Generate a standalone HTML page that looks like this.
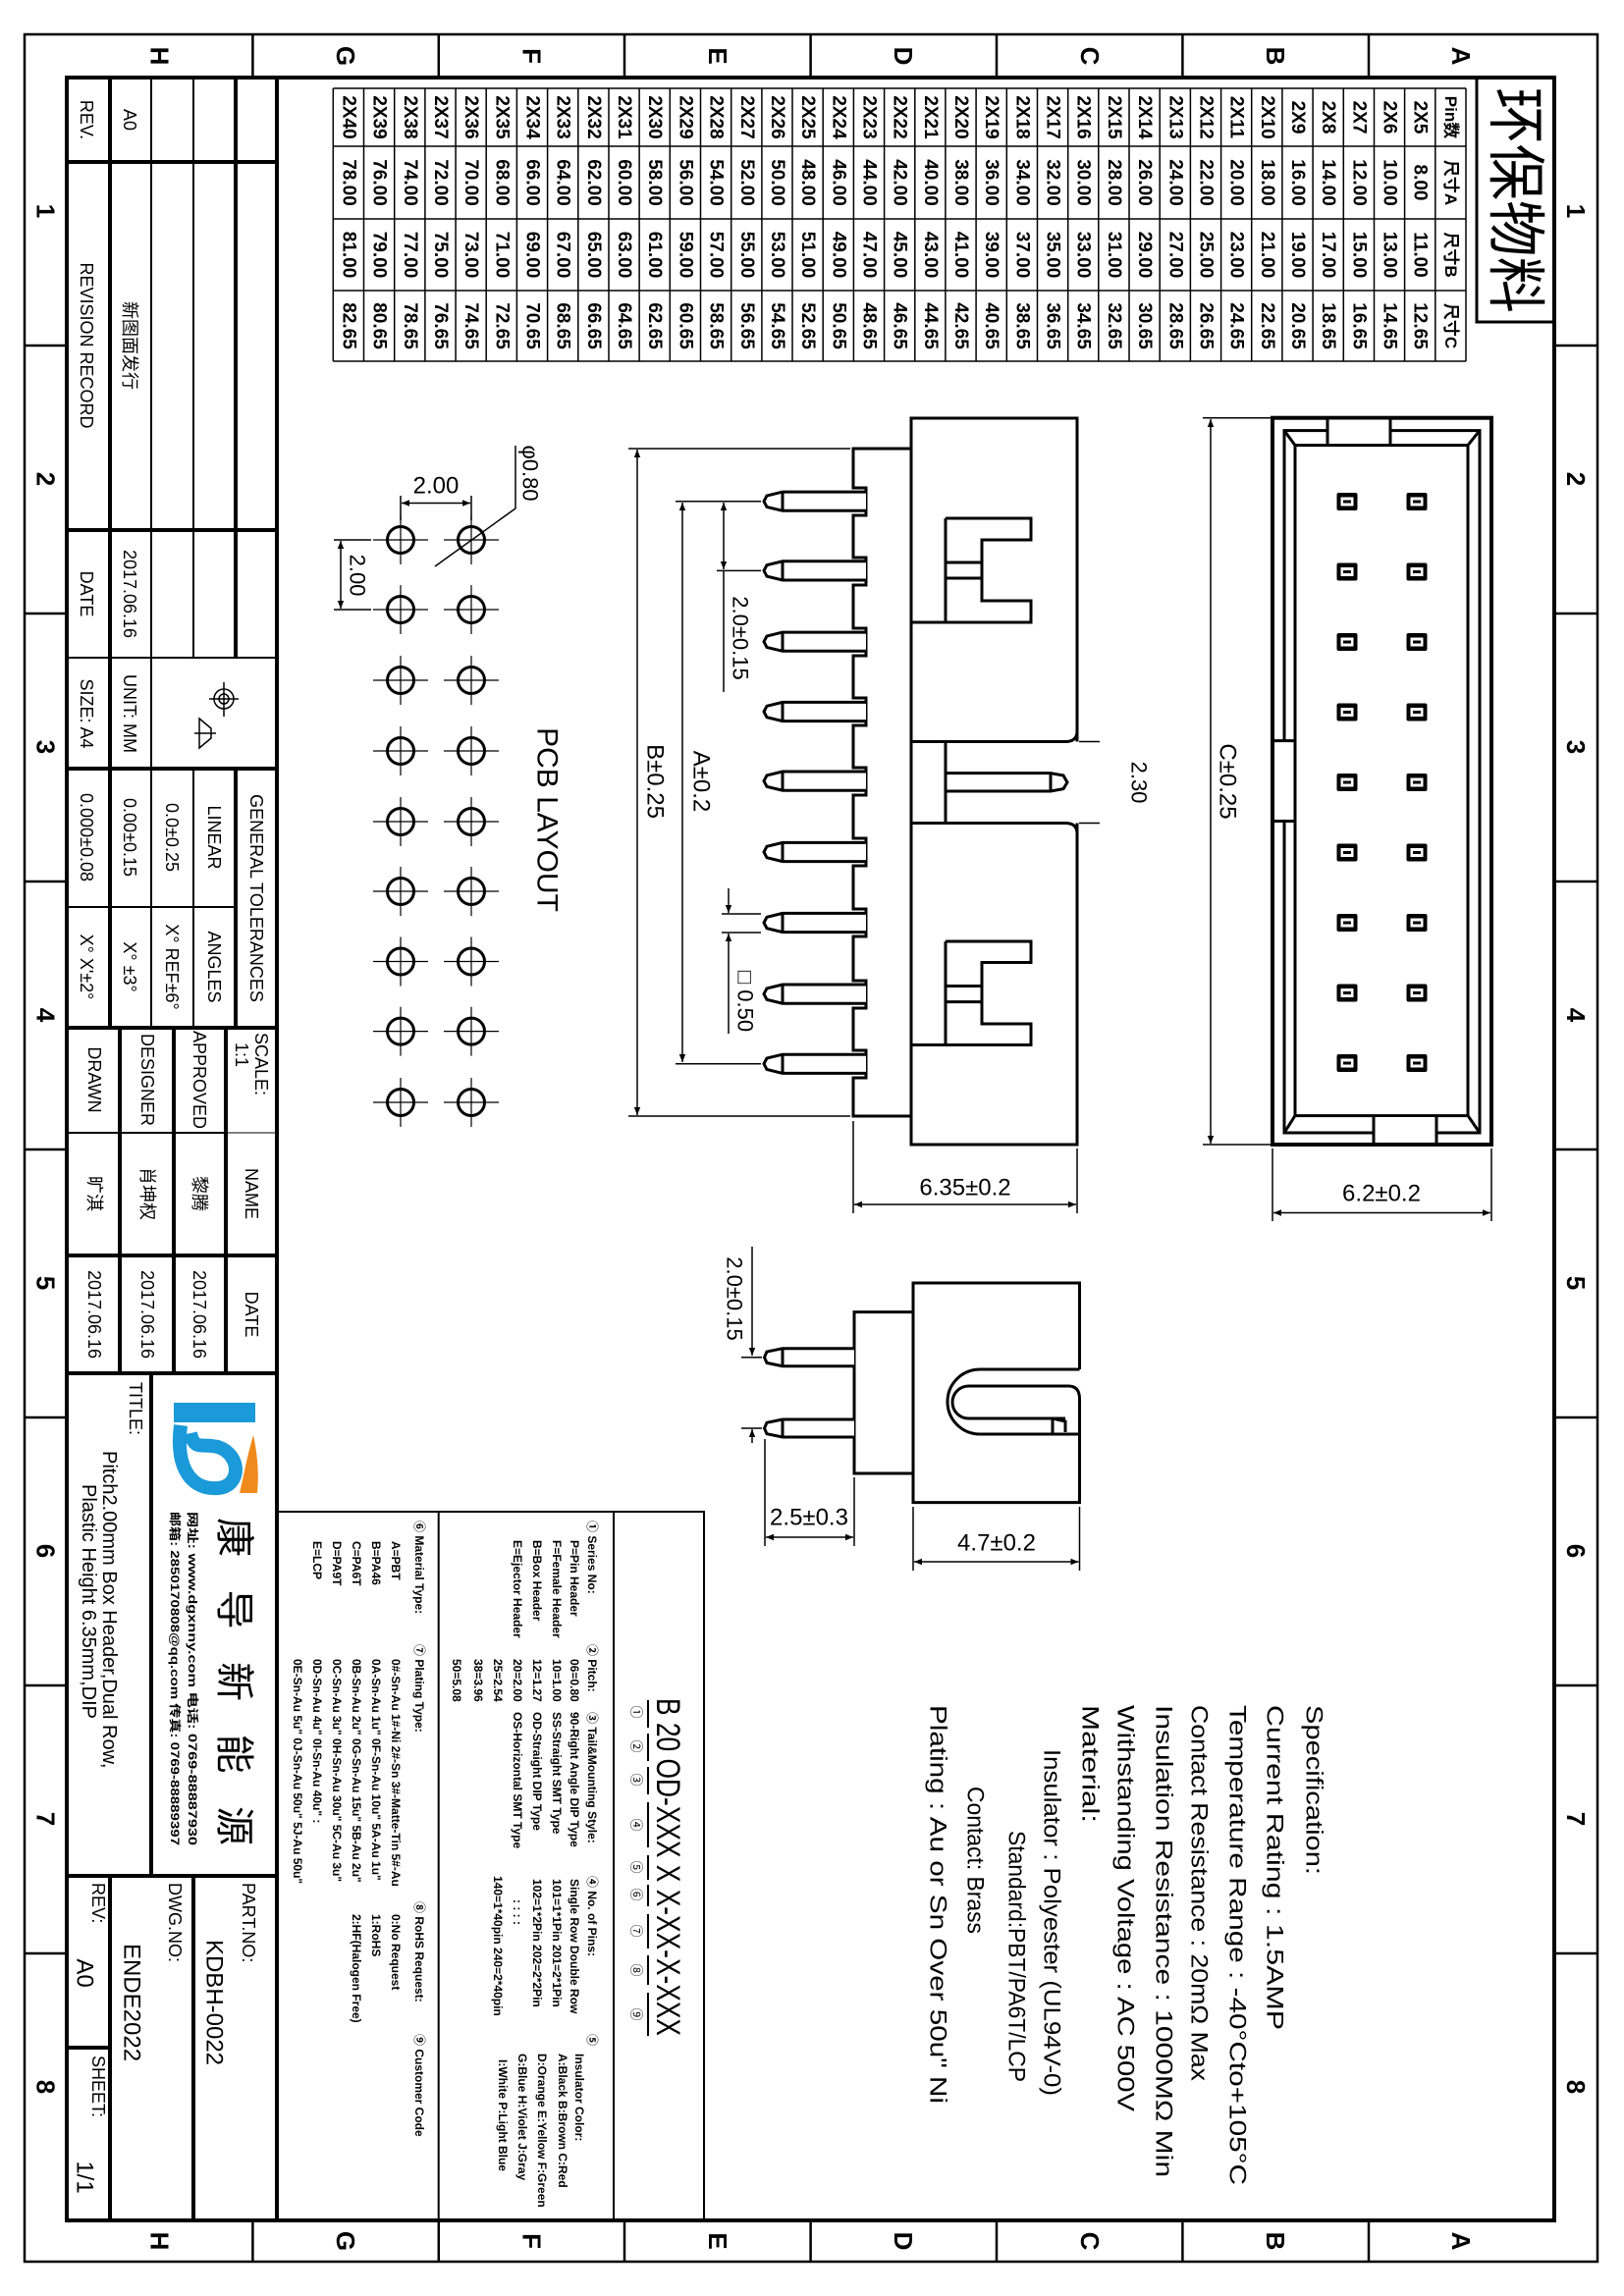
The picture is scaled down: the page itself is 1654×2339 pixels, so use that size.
<!DOCTYPE html>
<html><head><meta charset="utf-8"><style>
html,body{margin:0;padding:0;background:#fff}
svg{display:block}
text{font-family:"Liberation Sans Narrow","Liberation Sans","Noto Sans CJK SC",sans-serif;fill:#000}
.c{dominant-baseline:central;text-anchor:middle}
.s{dominant-baseline:central;text-anchor:start}
</style></head><body>
<svg xmlns="http://www.w3.org/2000/svg" width="1654" height="2339" viewBox="0 0 1654 2339">
<defs>
<marker id="ar" viewBox="0 0 10 10" refX="10" refY="5" markerWidth="12" markerHeight="8" markerUnits="userSpaceOnUse" orient="auto-start-reverse"><path d="M0,1 L10,5 L0,9 z" fill="#000"/></marker>
</defs>
<rect width="1654" height="2339" fill="#fff"/>
<!-- frame -->
<rect x="25" y="35" width="1602" height="2269" fill="none" stroke="#000" stroke-width="2.5"/>
<rect x="68" y="79" width="1515" height="2183" fill="none" stroke="#000" stroke-width="4"/>
<g stroke="#000" stroke-width="2.5">
<line x1="257.4" y1="35" x2="257.4" y2="79"/><line x1="446.8" y1="35" x2="446.8" y2="79"/><line x1="636" y1="35" x2="636" y2="79"/><line x1="825.6" y1="35" x2="825.6" y2="79"/><line x1="1015" y1="35" x2="1015" y2="79"/><line x1="1204.4" y1="35" x2="1204.4" y2="79"/><line x1="1394" y1="35" x2="1394" y2="79"/>
<line x1="257.4" y1="2262" x2="257.4" y2="2304"/><line x1="446.8" y1="2262" x2="446.8" y2="2304"/><line x1="636" y1="2262" x2="636" y2="2304"/><line x1="825.6" y1="2262" x2="825.6" y2="2304"/><line x1="1015" y1="2262" x2="1015" y2="2304"/><line x1="1204.4" y1="2262" x2="1204.4" y2="2304"/><line x1="1394" y1="2262" x2="1394" y2="2304"/>
<line x1="25" y1="352" x2="68" y2="352"/><line x1="25" y1="625" x2="68" y2="625"/><line x1="25" y1="898" x2="68" y2="898"/><line x1="25" y1="1171" x2="68" y2="1171"/><line x1="25" y1="1444" x2="68" y2="1444"/><line x1="25" y1="1717" x2="68" y2="1717"/><line x1="25" y1="1990" x2="68" y2="1990"/>
<line x1="1583" y1="352" x2="1627" y2="352"/><line x1="1583" y1="625" x2="1627" y2="625"/><line x1="1583" y1="898" x2="1627" y2="898"/><line x1="1583" y1="1171" x2="1627" y2="1171"/><line x1="1583" y1="1444" x2="1627" y2="1444"/><line x1="1583" y1="1717" x2="1627" y2="1717"/><line x1="1583" y1="1990" x2="1627" y2="1990"/>
</g>
<g font-size="26" font-weight="bold">
<text class="c" transform="translate(162.7 57) rotate(90)">H</text><text class="c" transform="translate(352 57) rotate(90)">G</text><text class="c" transform="translate(541.5 57) rotate(90)">F</text><text class="c" transform="translate(731 57) rotate(90)">E</text><text class="c" transform="translate(920 57) rotate(90)">D</text><text class="c" transform="translate(1110 57) rotate(90)">C</text><text class="c" transform="translate(1299 57) rotate(90)">B</text><text class="c" transform="translate(1488 57) rotate(90)">A</text>
<text class="c" transform="translate(162.7 2283) rotate(90)">H</text><text class="c" transform="translate(352 2283) rotate(90)">G</text><text class="c" transform="translate(541.5 2283) rotate(90)">F</text><text class="c" transform="translate(731 2283) rotate(90)">E</text><text class="c" transform="translate(920 2283) rotate(90)">D</text><text class="c" transform="translate(1110 2283) rotate(90)">C</text><text class="c" transform="translate(1299 2283) rotate(90)">B</text><text class="c" transform="translate(1488 2283) rotate(90)">A</text>
<text class="c" transform="translate(46.5 215) rotate(90)">1</text><text class="c" transform="translate(46.5 488) rotate(90)">2</text><text class="c" transform="translate(46.5 761) rotate(90)">3</text><text class="c" transform="translate(46.5 1034) rotate(90)">4</text><text class="c" transform="translate(46.5 1307) rotate(90)">5</text><text class="c" transform="translate(46.5 1580) rotate(90)">6</text><text class="c" transform="translate(46.5 1853) rotate(90)">7</text><text class="c" transform="translate(46.5 2126) rotate(90)">8</text>
<text class="c" transform="translate(1605 215) rotate(90)">1</text><text class="c" transform="translate(1605 488) rotate(90)">2</text><text class="c" transform="translate(1605 761) rotate(90)">3</text><text class="c" transform="translate(1605 1034) rotate(90)">4</text><text class="c" transform="translate(1605 1307) rotate(90)">5</text><text class="c" transform="translate(1605 1580) rotate(90)">6</text><text class="c" transform="translate(1605 1853) rotate(90)">7</text><text class="c" transform="translate(1605 2126) rotate(90)">8</text>
</g>

<!-- 环保物料 -->
<rect x="1504" y="79" width="79" height="249" fill="none" stroke="#000" stroke-width="3"/>
<text class="c" transform="translate(1543 204) rotate(90)" font-size="60" font-family="Noto Serif CJK SC,serif" textLength="230" lengthAdjust="spacingAndGlyphs">环保物料</text>

<!-- table -->
<g stroke="#000" stroke-width="1.5">
<line x1="339.3" y1="90" x2="1493" y2="90"/><line x1="339.3" y1="149" x2="1493" y2="149"/><line x1="339.3" y1="223" x2="1493" y2="223"/><line x1="339.3" y1="296" x2="1493" y2="296"/><line x1="339.3" y1="368" x2="1493" y2="368"/>
<line x1="1493" y1="90" x2="1493" y2="368"/><line x1="1461.8" y1="90" x2="1461.8" y2="368"/><line x1="1430.6" y1="90" x2="1430.6" y2="368"/><line x1="1399.5" y1="90" x2="1399.5" y2="368"/><line x1="1368.3" y1="90" x2="1368.3" y2="368"/><line x1="1337.1" y1="90" x2="1337.1" y2="368"/><line x1="1305.9" y1="90" x2="1305.9" y2="368"/><line x1="1274.7" y1="90" x2="1274.7" y2="368"/><line x1="1243.6" y1="90" x2="1243.6" y2="368"/><line x1="1212.4" y1="90" x2="1212.4" y2="368"/><line x1="1181.2" y1="90" x2="1181.2" y2="368"/><line x1="1150" y1="90" x2="1150" y2="368"/><line x1="1118.8" y1="90" x2="1118.8" y2="368"/><line x1="1087.7" y1="90" x2="1087.7" y2="368"/><line x1="1056.5" y1="90" x2="1056.5" y2="368"/><line x1="1025.3" y1="90" x2="1025.3" y2="368"/><line x1="994.1" y1="90" x2="994.1" y2="368"/><line x1="962.9" y1="90" x2="962.9" y2="368"/><line x1="931.8" y1="90" x2="931.8" y2="368"/><line x1="900.6" y1="90" x2="900.6" y2="368"/><line x1="869.4" y1="90" x2="869.4" y2="368"/><line x1="838.2" y1="90" x2="838.2" y2="368"/><line x1="807" y1="90" x2="807" y2="368"/><line x1="775.9" y1="90" x2="775.9" y2="368"/><line x1="744.7" y1="90" x2="744.7" y2="368"/><line x1="713.5" y1="90" x2="713.5" y2="368"/><line x1="682.3" y1="90" x2="682.3" y2="368"/><line x1="651.1" y1="90" x2="651.1" y2="368"/><line x1="620" y1="90" x2="620" y2="368"/><line x1="588.8" y1="90" x2="588.8" y2="368"/><line x1="557.6" y1="90" x2="557.6" y2="368"/><line x1="526.4" y1="90" x2="526.4" y2="368"/><line x1="495.2" y1="90" x2="495.2" y2="368"/><line x1="464.1" y1="90" x2="464.1" y2="368"/><line x1="432.9" y1="90" x2="432.9" y2="368"/><line x1="401.7" y1="90" x2="401.7" y2="368"/><line x1="370.5" y1="90" x2="370.5" y2="368"/><line x1="339.3" y1="90" x2="339.3" y2="368"/>
</g>
<g font-size="19" font-weight="bold">
<g transform="translate(1477.4 0) rotate(90)"><text class="c" x="119.5" font-size="17">Pin数</text><text class="c" x="186" font-size="17">尺寸A</text><text class="c" x="259.5" font-size="17">尺寸B</text><text class="c" x="332" font-size="17">尺寸C</text></g>
<g transform="translate(1446.2 0) rotate(90)"><text class="c" x="119.5">2X5</text><text class="c" x="186">8.00</text><text class="c" x="259.5">11.00</text><text class="c" x="332">12.65</text></g>
<g transform="translate(1415 0) rotate(90)"><text class="c" x="119.5">2X6</text><text class="c" x="186">10.00</text><text class="c" x="259.5">13.00</text><text class="c" x="332">14.65</text></g>
<g transform="translate(1383.9 0) rotate(90)"><text class="c" x="119.5">2X7</text><text class="c" x="186">12.00</text><text class="c" x="259.5">15.00</text><text class="c" x="332">16.65</text></g>
<g transform="translate(1352.7 0) rotate(90)"><text class="c" x="119.5">2X8</text><text class="c" x="186">14.00</text><text class="c" x="259.5">17.00</text><text class="c" x="332">18.65</text></g>
<g transform="translate(1321.5 0) rotate(90)"><text class="c" x="119.5">2X9</text><text class="c" x="186">16.00</text><text class="c" x="259.5">19.00</text><text class="c" x="332">20.65</text></g>
<g transform="translate(1290.3 0) rotate(90)"><text class="c" x="119.5">2X10</text><text class="c" x="186">18.00</text><text class="c" x="259.5">21.00</text><text class="c" x="332">22.65</text></g>
<g transform="translate(1259.1 0) rotate(90)"><text class="c" x="119.5">2X11</text><text class="c" x="186">20.00</text><text class="c" x="259.5">23.00</text><text class="c" x="332">24.65</text></g>
<g transform="translate(1228 0) rotate(90)"><text class="c" x="119.5">2X12</text><text class="c" x="186">22.00</text><text class="c" x="259.5">25.00</text><text class="c" x="332">26.65</text></g>
<g transform="translate(1196.8 0) rotate(90)"><text class="c" x="119.5">2X13</text><text class="c" x="186">24.00</text><text class="c" x="259.5">27.00</text><text class="c" x="332">28.65</text></g>
<g transform="translate(1165.6 0) rotate(90)"><text class="c" x="119.5">2X14</text><text class="c" x="186">26.00</text><text class="c" x="259.5">29.00</text><text class="c" x="332">30.65</text></g>
<g transform="translate(1134.4 0) rotate(90)"><text class="c" x="119.5">2X15</text><text class="c" x="186">28.00</text><text class="c" x="259.5">31.00</text><text class="c" x="332">32.65</text></g>
<g transform="translate(1103.2 0) rotate(90)"><text class="c" x="119.5">2X16</text><text class="c" x="186">30.00</text><text class="c" x="259.5">33.00</text><text class="c" x="332">34.65</text></g>
<g transform="translate(1072.1 0) rotate(90)"><text class="c" x="119.5">2X17</text><text class="c" x="186">32.00</text><text class="c" x="259.5">35.00</text><text class="c" x="332">36.65</text></g>
<g transform="translate(1040.9 0) rotate(90)"><text class="c" x="119.5">2X18</text><text class="c" x="186">34.00</text><text class="c" x="259.5">37.00</text><text class="c" x="332">38.65</text></g>
<g transform="translate(1009.7 0) rotate(90)"><text class="c" x="119.5">2X19</text><text class="c" x="186">36.00</text><text class="c" x="259.5">39.00</text><text class="c" x="332">40.65</text></g>
<g transform="translate(978.5 0) rotate(90)"><text class="c" x="119.5">2X20</text><text class="c" x="186">38.00</text><text class="c" x="259.5">41.00</text><text class="c" x="332">42.65</text></g>
<g transform="translate(947.3 0) rotate(90)"><text class="c" x="119.5">2X21</text><text class="c" x="186">40.00</text><text class="c" x="259.5">43.00</text><text class="c" x="332">44.65</text></g>
<g transform="translate(916.2 0) rotate(90)"><text class="c" x="119.5">2X22</text><text class="c" x="186">42.00</text><text class="c" x="259.5">45.00</text><text class="c" x="332">46.65</text></g>
<g transform="translate(885 0) rotate(90)"><text class="c" x="119.5">2X23</text><text class="c" x="186">44.00</text><text class="c" x="259.5">47.00</text><text class="c" x="332">48.65</text></g>
<g transform="translate(853.8 0) rotate(90)"><text class="c" x="119.5">2X24</text><text class="c" x="186">46.00</text><text class="c" x="259.5">49.00</text><text class="c" x="332">50.65</text></g>
<g transform="translate(822.6 0) rotate(90)"><text class="c" x="119.5">2X25</text><text class="c" x="186">48.00</text><text class="c" x="259.5">51.00</text><text class="c" x="332">52.65</text></g>
<g transform="translate(791.4 0) rotate(90)"><text class="c" x="119.5">2X26</text><text class="c" x="186">50.00</text><text class="c" x="259.5">53.00</text><text class="c" x="332">54.65</text></g>
<g transform="translate(760.3 0) rotate(90)"><text class="c" x="119.5">2X27</text><text class="c" x="186">52.00</text><text class="c" x="259.5">55.00</text><text class="c" x="332">56.65</text></g>
<g transform="translate(729.1 0) rotate(90)"><text class="c" x="119.5">2X28</text><text class="c" x="186">54.00</text><text class="c" x="259.5">57.00</text><text class="c" x="332">58.65</text></g>
<g transform="translate(697.9 0) rotate(90)"><text class="c" x="119.5">2X29</text><text class="c" x="186">56.00</text><text class="c" x="259.5">59.00</text><text class="c" x="332">60.65</text></g>
<g transform="translate(666.7 0) rotate(90)"><text class="c" x="119.5">2X30</text><text class="c" x="186">58.00</text><text class="c" x="259.5">61.00</text><text class="c" x="332">62.65</text></g>
<g transform="translate(635.5 0) rotate(90)"><text class="c" x="119.5">2X31</text><text class="c" x="186">60.00</text><text class="c" x="259.5">63.00</text><text class="c" x="332">64.65</text></g>
<g transform="translate(604.4 0) rotate(90)"><text class="c" x="119.5">2X32</text><text class="c" x="186">62.00</text><text class="c" x="259.5">65.00</text><text class="c" x="332">66.65</text></g>
<g transform="translate(573.2 0) rotate(90)"><text class="c" x="119.5">2X33</text><text class="c" x="186">64.00</text><text class="c" x="259.5">67.00</text><text class="c" x="332">68.65</text></g>
<g transform="translate(542 0) rotate(90)"><text class="c" x="119.5">2X34</text><text class="c" x="186">66.00</text><text class="c" x="259.5">69.00</text><text class="c" x="332">70.65</text></g>
<g transform="translate(510.8 0) rotate(90)"><text class="c" x="119.5">2X35</text><text class="c" x="186">68.00</text><text class="c" x="259.5">71.00</text><text class="c" x="332">72.65</text></g>
<g transform="translate(479.6 0) rotate(90)"><text class="c" x="119.5">2X36</text><text class="c" x="186">70.00</text><text class="c" x="259.5">73.00</text><text class="c" x="332">74.65</text></g>
<g transform="translate(448.5 0) rotate(90)"><text class="c" x="119.5">2X37</text><text class="c" x="186">72.00</text><text class="c" x="259.5">75.00</text><text class="c" x="332">76.65</text></g>
<g transform="translate(417.3 0) rotate(90)"><text class="c" x="119.5">2X38</text><text class="c" x="186">74.00</text><text class="c" x="259.5">77.00</text><text class="c" x="332">78.65</text></g>
<g transform="translate(386.1 0) rotate(90)"><text class="c" x="119.5">2X39</text><text class="c" x="186">76.00</text><text class="c" x="259.5">79.00</text><text class="c" x="332">80.65</text></g>
<g transform="translate(354.9 0) rotate(90)"><text class="c" x="119.5">2X40</text><text class="c" x="186">78.00</text><text class="c" x="259.5">81.00</text><text class="c" x="332">82.65</text></g>
</g>

<!-- TOP VIEW -->
<g fill="none" stroke="#000" stroke-width="3">
<rect x="1296" y="425.7" width="223" height="740.3" stroke-width="4"/>
<rect x="1308" y="438.6" width="199" height="715.4"/>
<rect x="1319" y="453.6" width="176" height="683"/>
<line x1="1308" y1="438.6" x2="1319" y2="453.6"/><line x1="1507" y1="438.6" x2="1495" y2="453.6"/><line x1="1308" y1="1154" x2="1319" y2="1136.5"/><line x1="1507" y1="1154" x2="1495" y2="1136.5"/>
</g>
<rect x="1353" y="427.5" width="62" height="24" fill="#fff"/>
<rect x="1400" y="1138" width="62" height="26" fill="#fff"/>
<rect x="1298" y="756" width="19" height="79" fill="#fff"/>
<g stroke="#000" stroke-width="3" fill="none">
<line x1="1352" y1="425.7" x2="1352" y2="453.6"/><line x1="1416" y1="425.7" x2="1416" y2="453.6"/>
<line x1="1399" y1="1136.5" x2="1399" y2="1166"/><line x1="1463" y1="1136.5" x2="1463" y2="1166"/>
<line x1="1296" y1="754.6" x2="1319" y2="754.6"/><line x1="1296" y1="836.5" x2="1319" y2="836.5"/>
</g>
<g id="pins">
<g transform="translate(1372 511)"><rect x="-10.5" y="-9" width="21" height="18" rx="2"/><rect x="-6.5" y="-4.5" width="13" height="9" fill="#fff"/><rect x="-4" y="-1.5" width="8" height="3"/></g>
<g transform="translate(1443 511)"><rect x="-10.5" y="-9" width="21" height="18" rx="2"/><rect x="-6.5" y="-4.5" width="13" height="9" fill="#fff"/><rect x="-4" y="-1.5" width="8" height="3"/></g>
</g>
<use href="#pins" transform="translate(0 71.5)"/><use href="#pins" transform="translate(0 143)"/><use href="#pins" transform="translate(0 214.5)"/><use href="#pins" transform="translate(0 286)"/><use href="#pins" transform="translate(0 357.5)"/><use href="#pins" transform="translate(0 429)"/><use href="#pins" transform="translate(0 500.5)"/><use href="#pins" transform="translate(0 572)"/>
<g stroke="#000" stroke-width="1.5" fill="none">
<line x1="1225" y1="425.7" x2="1294" y2="425.7"/><line x1="1225" y1="1166" x2="1294" y2="1166"/>
<line x1="1233" y1="427" x2="1233" y2="1165" marker-start="url(#ar)" marker-end="url(#ar)"/>
<line x1="1296" y1="1170" x2="1296" y2="1244"/><line x1="1519" y1="1170" x2="1519" y2="1244"/>
<line x1="1297" y1="1235.5" x2="1518" y2="1235.5" marker-start="url(#ar)" marker-end="url(#ar)"/>
</g>
<text class="c" transform="translate(1250 796) rotate(90)" font-size="24">C±0.25</text>
<text class="c" x="1407" y="1216" font-size="24">6.2±0.2</text>

<!-- SIDE VIEW -->
<g fill="none" stroke="#000" stroke-width="3">
<path d="M1097,755.5 V426 H928 V1166 H1097 V838.5"/>
<path d="M928,457 H869 V497 H882 V525 H869 V568 H882 V596 H869 V640 H882 V668 H869 V711 H882 V739 H869 V782 H882 V810 H869 V854 H882 V882 H869 V926 H882 V954 H869 V999 H882 V1027 H869 V1070 H882 V1098 H869 V1137 H928"/>
<path d="M963,528 H1050 V550 H1000 V612 H1050 V634 H928 M963,528 V634 M963,573 H1000 M963,589 H1000"/>
<path d="M963,959 H1050 V980.5 H1000 V1043 H1050 V1064.5 H928 M963,959 V1064.5 M963,1004.5 H1000 M963,1020.6 H1000"/>
<path d="M928,755.5 H1085 Q1097,755.5 1097,745 M928,838.5 H1085 Q1097,838.5 1097,849 M963,755.5 V838.5"/>
<path d="M963,787.6 H1070 L1083,790 L1087,797 L1083,803.6 L1070,806 H963 M1070,787.6 V806"/>
</g>
<g id="spin" fill="#fff" stroke="#000" stroke-width="3"><path d="M882,501.1 H797 L781,505 L778,510.7 L781,516.4 L797,520.3 H882 M797,501.1 V520.3"/></g>
<use href="#spin" transform="translate(0 70.7)"/><use href="#spin" transform="translate(0 143)"/><use href="#spin" transform="translate(0 214.3)"/><use href="#spin" transform="translate(0 284.9)"/><use href="#spin" transform="translate(0 357.3)"/><use href="#spin" transform="translate(0 429.3)"/><use href="#spin" transform="translate(0 501.9)"/><use href="#spin" transform="translate(0 573.1)"/>
<g stroke="#000" stroke-width="1.5" fill="none">
<line x1="640" y1="457" x2="866" y2="457"/><line x1="640" y1="1137" x2="866" y2="1137"/>
<line x1="649" y1="458" x2="649" y2="1136" marker-start="url(#ar)" marker-end="url(#ar)"/>
<line x1="688" y1="510.7" x2="775" y2="510.7"/><line x1="688" y1="1083.8" x2="775" y2="1083.8"/>
<line x1="695" y1="512" x2="695" y2="1082" marker-start="url(#ar)" marker-end="url(#ar)"/>
<line x1="730" y1="581.4" x2="775" y2="581.4"/>
<line x1="737" y1="512" x2="737" y2="580" marker-start="url(#ar)" marker-end="url(#ar)"/><line x1="737" y1="581" x2="737" y2="705"/>
<line x1="735" y1="931" x2="775" y2="931"/><line x1="735" y1="950" x2="775" y2="950"/>
<line x1="742" y1="905" x2="742" y2="930" marker-end="url(#ar)"/><line x1="742" y1="1053" x2="742" y2="951" marker-end="url(#ar)"/>
<line x1="1099" y1="755.5" x2="1120" y2="755.5"/><line x1="1099" y1="838.5" x2="1120" y2="838.5"/>
<line x1="869" y1="1142" x2="869" y2="1236"/><line x1="1097" y1="1170" x2="1097" y2="1236"/>
<line x1="870" y1="1227" x2="1096" y2="1227" marker-start="url(#ar)" marker-end="url(#ar)"/>
</g>
<text class="c" transform="translate(667 796) rotate(90)" font-size="24">B±0.25</text>
<text class="c" transform="translate(714 796) rotate(90)" font-size="24">A±0.2</text>
<text class="c" transform="translate(754 650) rotate(90)" font-size="22">2.0±0.15</text>
<text class="c" transform="translate(759 1020) rotate(90)" font-size="22">□ 0.50</text>
<text class="c" transform="translate(1160 797) rotate(90)" font-size="22">2.30</text>
<text class="c" x="983" y="1210" font-size="24">6.35±0.2</text>

<!-- END VIEW -->
<g fill="none" stroke="#000" stroke-width="3">
<path d="M1099.5,1395 V1307 H930 V1530.6 H1099.5 V1425 Q1099.5,1412 1088,1412 H986.5 A16.5,16.5 0 0 0 986.5,1445 H1085"/>
<path d="M1099.5,1395 H998 A33,33 0 0 0 998,1461 H1099.5"/>
<path d="M1072,1445 L1085,1448 V1459"/><line x1="1072" y1="1445" x2="1072" y2="1461"/>
<rect x="870" y="1336.6" width="60" height="164.4"/>
</g>
<g fill="#fff" stroke="#000" stroke-width="3">
<path d="M870,1373.7 H797 L781,1377 L778.5,1382.7 L781,1388.4 L797,1391.7 H870 M797,1373.7 V1391.7"/>
<path d="M870,1446 H797 L781,1449.3 L778.5,1455 L781,1460.7 L797,1464 H870 M797,1446 V1464"/>
</g>
<g stroke="#000" stroke-width="1.5" fill="none">
<line x1="755" y1="1382.7" x2="776" y2="1382.7"/><line x1="755" y1="1455" x2="776" y2="1455"/>
<line x1="766" y1="1270" x2="766" y2="1381" marker-end="url(#ar)"/><line x1="766" y1="1470" x2="766" y2="1456" marker-end="url(#ar)"/>
<line x1="779" y1="1466" x2="779" y2="1575"/><line x1="870" y1="1505" x2="870" y2="1575"/>
<line x1="780" y1="1566" x2="869" y2="1566" marker-start="url(#ar)" marker-end="url(#ar)"/>
<line x1="930" y1="1535" x2="930" y2="1600"/><line x1="1099.5" y1="1535" x2="1099.5" y2="1600"/>
<line x1="931" y1="1591" x2="1098.5" y2="1591" marker-start="url(#ar)" marker-end="url(#ar)"/>
</g>
<text class="c" transform="translate(748 1323) rotate(90)" font-size="22">2.0±0.15</text>
<text class="c" x="824" y="1546" font-size="24">2.5±0.3</text>
<text class="c" x="1015" y="1572" font-size="24">4.7±0.2</text>

<!-- PCB LAYOUT -->
<g id="pcbrow" fill="none" stroke="#000">
<circle cx="408" cy="550" r="13.5" stroke-width="3"/><circle cx="480" cy="550" r="13.5" stroke-width="3"/>
<path d="M380,550 H436 M408,525 V575 M452,550 H508 M480,525 V575" stroke-width="1.2"/>
</g>
<use href="#pcbrow" transform="translate(0 71)"/><use href="#pcbrow" transform="translate(0 143)"/><use href="#pcbrow" transform="translate(0 215)"/><use href="#pcbrow" transform="translate(0 287)"/><use href="#pcbrow" transform="translate(0 358)"/><use href="#pcbrow" transform="translate(0 429.5)"/><use href="#pcbrow" transform="translate(0 500.6)"/><use href="#pcbrow" transform="translate(0 573)"/>
<g stroke="#000" stroke-width="1.5" fill="none">
<line x1="408" y1="505" x2="408" y2="530"/><line x1="480" y1="505" x2="480" y2="530"/>
<line x1="409" y1="512.5" x2="479" y2="512.5" marker-start="url(#ar)" marker-end="url(#ar)"/>
<line x1="340" y1="550" x2="378" y2="550"/><line x1="340" y1="621" x2="378" y2="621"/>
<line x1="347" y1="551" x2="347" y2="620" marker-start="url(#ar)" marker-end="url(#ar)"/>
<path d="M443,577 L525,518 V454"/>
</g>
<text class="c" x="444" y="495" font-size="24">2.00</text>
<text class="c" transform="translate(364 586) rotate(90)" font-size="22">2.00</text>
<text class="c" transform="translate(540 482) rotate(90)" font-size="22">φ0.80</text>
<text class="c" transform="translate(557 835) rotate(90)" font-size="30">PCB LAYOUT</text>

<!-- SPEC -->
<g font-size="24">
<text class="s" transform="translate(1338 1737) rotate(90)" textLength="173" lengthAdjust="spacingAndGlyphs">Specification:</text>
<text class="s" transform="translate(1298 1737) rotate(90)" textLength="331" lengthAdjust="spacingAndGlyphs">Current Rating : 1.5AMP</text>
<text class="s" transform="translate(1260 1737) rotate(90)" textLength="489" lengthAdjust="spacingAndGlyphs">Temperature Range : -40°Cto+105°C</text>
<text class="s" transform="translate(1221 1737) rotate(90)" textLength="383" lengthAdjust="spacingAndGlyphs">Contact Resistance : 20mΩ Max</text>
<text class="s" transform="translate(1185 1737) rotate(90)" textLength="481" lengthAdjust="spacingAndGlyphs">Insulation Resistance : 1000MΩ Min</text>
<text class="s" transform="translate(1146 1737) rotate(90)" textLength="414" lengthAdjust="spacingAndGlyphs">Withstanding Voltage : AC 500V</text>
<text class="s" transform="translate(1110 1737) rotate(90)" textLength="120" lengthAdjust="spacingAndGlyphs">Material:</text>
<text class="s" transform="translate(1071 1782) rotate(90)" textLength="353" lengthAdjust="spacingAndGlyphs">Insulator : Polyester (UL94V-0)</text>
<text class="s" transform="translate(1035 1865) rotate(90)" textLength="256" lengthAdjust="spacingAndGlyphs">Standard:PBT/PA6T/LCP</text>
<text class="s" transform="translate(993 1820) rotate(90)" textLength="150" lengthAdjust="spacingAndGlyphs">Contact: Brass</text>
<text class="s" transform="translate(955 1737) rotate(90)" textLength="406" lengthAdjust="spacingAndGlyphs">Plating : Au or Sn Over 50u" Ni</text>
</g>

<!-- TITLE BLOCK -->
<g stroke="#000" fill="none">
<line x1="282" y1="79" x2="282" y2="2262" stroke-width="4"/>
<g stroke-width="4">
<line x1="68" y1="165" x2="282" y2="165"/><line x1="68" y1="540" x2="282" y2="540"/><line x1="68" y1="783" x2="282" y2="783"/><line x1="68" y1="1047" x2="282" y2="1047"/><line x1="68" y1="1279" x2="282" y2="1279"/><line x1="68" y1="1399" x2="282" y2="1399"/><line x1="68" y1="1911" x2="282" y2="1911"/>
<line x1="112" y1="79" x2="112" y2="1047"/><line x1="240" y1="79" x2="240" y2="670"/><line x1="240" y1="783" x2="240" y2="1047"/>
<line x1="122" y1="1047" x2="122" y2="1399"/><line x1="177" y1="1047" x2="177" y2="1399"/><line x1="230" y1="1047" x2="230" y2="1399"/>
<line x1="154" y1="1399" x2="154" y2="1911"/>
<line x1="112" y1="1911" x2="112" y2="2262"/><line x1="197" y1="1911" x2="197" y2="2262"/><line x1="68" y1="2086" x2="112" y2="2086"/>
</g>
<g stroke-width="2">
<line x1="68" y1="670" x2="282" y2="670"/><line x1="68" y1="924" x2="240" y2="924"/><line x1="68" y1="1154" x2="230" y2="1154"/><line x1="230" y1="1154" x2="282" y2="1154" stroke-width="1"/>
<line x1="154" y1="79" x2="154" y2="1047"/><line x1="197" y1="79" x2="197" y2="670"/><line x1="197" y1="783" x2="197" y2="1047"/>
</g>
<!-- symbol -->
<g stroke-width="1.5">
<circle cx="228" cy="712" r="10"/><circle cx="228" cy="712" r="5"/>
<line x1="213" y1="712" x2="243" y2="712"/><line x1="228" y1="695" x2="228" y2="730"/>
<path d="M203,732 L215,742 V752 L203,762 Z"/><line x1="198" y1="747" x2="220" y2="747"/>
</g>
</g>
<g font-size="18">
<text class="c" transform="translate(88 122) rotate(90)">REV.</text>
<text class="c" transform="translate(132 122) rotate(90)">A0</text>
<text class="c" transform="translate(88 352) rotate(90)">REVISION RECORD</text>
<text class="c" transform="translate(132 352) rotate(90)" font-family="Noto Sans CJK SC,sans-serif">新图面发行</text>
<text class="c" transform="translate(88 605) rotate(90)">DATE</text>
<text class="c" transform="translate(132 605) rotate(90)">2017.06.16</text>
<text class="c" transform="translate(88 727) rotate(90)">SIZE: A4</text>
<text class="c" transform="translate(132 727) rotate(90)">UNIT: MM</text>
<text class="c" transform="translate(88 853) rotate(90)">0.000±0.08</text>
<text class="c" transform="translate(132 853) rotate(90)">0.00±0.15</text>
<text class="c" transform="translate(175 853) rotate(90)">0.0±0.25</text>
<text class="c" transform="translate(218 853) rotate(90)">LINEAR</text>
<text class="c" transform="translate(261 915) rotate(90)">GENERAL TOLERANCES</text>
<text class="c" transform="translate(88 985) rotate(90)">X° X'±2°</text>
<text class="c" transform="translate(132 985) rotate(90)">X°  ±3°</text>
<text class="c" transform="translate(175 985) rotate(90)">X°  REF±6°</text>
<text class="c" transform="translate(218 985) rotate(90)">ANGLES</text>
<text class="c" transform="translate(96 1100) rotate(90)">DRAWN</text>
<text class="c" transform="translate(150 1100) rotate(90)">DESIGNER</text>
<text class="c" transform="translate(203 1100) rotate(90)">APPROVED</text>
<text class="s" transform="translate(266 1052) rotate(90)">SCALE:</text>
<text class="s" transform="translate(246 1062) rotate(90)">1:1</text>
<text class="c" transform="translate(96 1216) rotate(90)" font-family="Noto Sans CJK SC,sans-serif">旷淇</text>
<text class="c" transform="translate(150 1216) rotate(90)" font-family="Noto Sans CJK SC,sans-serif">肖坤权</text>
<text class="c" transform="translate(203 1216) rotate(90)" font-family="Noto Sans CJK SC,sans-serif">黎腾</text>
<text class="c" transform="translate(256 1216) rotate(90)">NAME</text>
<text class="c" transform="translate(96 1339) rotate(90)">2017.06.16</text>
<text class="c" transform="translate(150 1339) rotate(90)">2017.06.16</text>
<text class="c" transform="translate(203 1339) rotate(90)">2017.06.16</text>
<text class="c" transform="translate(256 1339) rotate(90)">DATE</text>
<text class="s" transform="translate(138 1408) rotate(90)">TITLE:</text>
<text class="s" transform="translate(111 1478) rotate(90)" font-size="20">Pitch2.00mm Box Header,Dual Row,</text>
<text class="s" transform="translate(90 1512) rotate(90)" font-size="20">Plastic Height 6.35mm,DIP</text>
<text class="s" transform="translate(253 1918) rotate(90)">PART.NO:</text>
<text class="c" transform="translate(218 2040) rotate(90)" font-size="24">KDBH-0022</text>
<text class="s" transform="translate(178 1918) rotate(90)">DWG.NO:</text>
<text class="c" transform="translate(134 2040) rotate(90)" font-size="24">ENDE2022</text>
<text class="s" transform="translate(100 1918) rotate(90)">REV:</text>
<text class="c" transform="translate(86 2010) rotate(90)" font-size="24">A0</text>
<text class="s" transform="translate(100 2094) rotate(90)">SHEET:</text>
<text class="c" transform="translate(86 2218) rotate(90)" font-size="24">1/1</text>
</g>
<!-- logo -->
<rect x="177" y="1429" width="83" height="20" fill="#1a9ad9"/>
<path d="M184,1452 C178,1500 198,1518 222,1516 C246,1514 246,1482 222,1474 C205,1470 198,1478 194,1460" fill="none" stroke="#1a9ad9" stroke-width="14"/>
<path d="M258,1462 C250,1490 248,1505 244,1521 L262,1521 C264,1500 262,1480 258,1462 Z" fill="#f08a1c"/>
<text class="s" transform="translate(238 1546) rotate(90)" font-size="40" font-family="Noto Sans CJK SC,sans-serif" textLength="334" lengthAdjust="spacing">康导新能源</text>
<text class="s" transform="translate(196 1540) rotate(90)" font-size="12" font-weight="bold" font-family="Noto Sans CJK SC,sans-serif" textLength="340" lengthAdjust="spacingAndGlyphs">网址: www.dgxnny.com   电话: 0769-88887930</text>
<text class="s" transform="translate(178 1540) rotate(90)" font-size="12" font-weight="bold" font-family="Noto Sans CJK SC,sans-serif" textLength="340" lengthAdjust="spacingAndGlyphs">邮箱: 2850170808@qq.com 传真: 0769-88889397</text>

<!-- LEGEND -->
<g fill="none" stroke="#000" stroke-width="2">
<rect x="283" y="1540" width="434" height="722"/>
<line x1="446.7" y1="1540" x2="446.7" y2="2262"/><line x1="625" y1="1540" x2="625" y2="2262"/>
<path d="M660,1732 V1760 M660,1766 V1794 M660,1800 V1828 M660,1836 V1882 M660,1890 V1915 M660,1920 V1942 M660,1950 V1985 M660,1992 V2022 M660,2030 V2074"/>
</g>
<text class="s" transform="translate(680 1730) rotate(90)" font-size="34" textLength="344" lengthAdjust="spacingAndGlyphs">B 20 OD-XXX X X-XX-X-XXX</text>
<g font-size="13">
<text class="c" transform="translate(648 1744) rotate(90)">①</text><text class="c" transform="translate(648 1779) rotate(90)">②</text><text class="c" transform="translate(648 1813) rotate(90)">③</text><text class="c" transform="translate(648 1859) rotate(90)">④</text><text class="c" transform="translate(648 1902) rotate(90)">⑤</text><text class="c" transform="translate(648 1930) rotate(90)">⑥</text><text class="c" transform="translate(648 1967) rotate(90)">⑦</text><text class="c" transform="translate(648 2007) rotate(90)">⑧</text><text class="c" transform="translate(648 2052) rotate(90)">⑨</text>
</g>
<g font-size="12" font-weight="bold">
<text class="s" transform="translate(603 1549) rotate(90)">① Series No:</text>
<text class="s" transform="translate(603 1675) rotate(90)">② Pitch:</text>
<text class="s" transform="translate(603 1744) rotate(90)">③ Tail&amp;Mounting Style:</text>
<text class="s" transform="translate(603 1911) rotate(90)">④ No. of Pins:</text>
<text class="s" transform="translate(603 2072) rotate(90)">⑤</text>
<text class="s" transform="translate(590 2092) rotate(90)">Insulator Color:</text>
<text class="s" transform="translate(585 1569) rotate(90)">P=Pin Header</text>
<text class="s" transform="translate(585 1690) rotate(90)">06=0.80</text>
<text class="s" transform="translate(585 1744) rotate(90)">90-Right Angle DIP Type</text>
<text class="s" transform="translate(585 1914) rotate(90)">Single Row  Double Row</text>
<text class="s" transform="translate(567 1569) rotate(90)">F=Female Header</text>
<text class="s" transform="translate(567 1690) rotate(90)">10=1.00</text>
<text class="s" transform="translate(567 1744) rotate(90)">SS-Straight SMT Type</text>
<text class="s" transform="translate(567 1914) rotate(90)">101=1*1Pin  201=2*1Pin</text>
<text class="s" transform="translate(573 2092) rotate(90)">A:Black  B:Brown  C:Red</text>
<text class="s" transform="translate(547 1569) rotate(90)">B=Box Header</text>
<text class="s" transform="translate(547 1690) rotate(90)">12=1.27</text>
<text class="s" transform="translate(547 1744) rotate(90)">OD-Straight DIP Type</text>
<text class="s" transform="translate(547 1914) rotate(90)">102=1*2Pin  202=2*2Pin</text>
<text class="s" transform="translate(552 2092) rotate(90)">D:Orange E:Yellow F:Green</text>
<text class="s" transform="translate(527 1569) rotate(90)">E=Ejector Header</text>
<text class="s" transform="translate(527 1690) rotate(90)">20=2.00</text>
<text class="s" transform="translate(527 1744) rotate(90)">OS-Horizontal SMT Type</text>
<text class="s" transform="translate(527 1935) rotate(90)">:  :       :  :</text>
<text class="s" transform="translate(532 2092) rotate(90)">G:Blue  H:Violet J:Gray</text>
<text class="s" transform="translate(507 1690) rotate(90)">25=2.54</text>
<text class="s" transform="translate(507 1911) rotate(90)">140=1*40pin  240=2*40pin</text>
<text class="s" transform="translate(512 2098) rotate(90)">I:White  P:Light Blue</text>
<text class="s" transform="translate(487 1690) rotate(90)">38=3.96</text>
<text class="s" transform="translate(465 1690) rotate(90)">50=5.08</text>
<text class="s" transform="translate(427 1549) rotate(90)">⑥ Material Type:</text>
<text class="s" transform="translate(427 1675) rotate(90)">⑦ Plating Type:</text>
<text class="s" transform="translate(427 1937) rotate(90)">⑧ RoHS Request:</text>
<text class="s" transform="translate(427 2072) rotate(90)">⑨ Customer Code</text>
<text class="s" transform="translate(403 1570) rotate(90)">A=PBT</text>
<text class="s" transform="translate(403 1690) rotate(90)">0#-Sn-Au 1#-Ni 2#-Sn 3#-Matte-Tin 5#-Au</text>
<text class="s" transform="translate(403 1950) rotate(90)">0:No Request</text>
<text class="s" transform="translate(383 1570) rotate(90)">B=PA46</text>
<text class="s" transform="translate(383 1690) rotate(90)">0A-Sn-Au 1u" 0F-Sn-Au 10u"  5A-Au 1u"</text>
<text class="s" transform="translate(383 1950) rotate(90)">1:RoHS</text>
<text class="s" transform="translate(363 1570) rotate(90)">C=PA6T</text>
<text class="s" transform="translate(363 1690) rotate(90)">0B-Sn-Au 2u" 0G-Sn-Au 15u"  5B-Au 2u"</text>
<text class="s" transform="translate(363 1950) rotate(90)">2:HF(Halogen Free)</text>
<text class="s" transform="translate(343 1570) rotate(90)">D=PA9T</text>
<text class="s" transform="translate(343 1690) rotate(90)">0C-Sn-Au 3u" 0H-Sn-Au 30u"  5C-Au 3u"</text>
<text class="s" transform="translate(323 1570) rotate(90)">E=LCP</text>
<text class="s" transform="translate(323 1690) rotate(90)">0D-Sn-Au 4u" 0I-Sn-Au 40u"    :</text>
<text class="s" transform="translate(303 1690) rotate(90)">0E-Sn-Au 5u" 0J-Sn-Au 50u"  5J-Au 50u"</text>
</g>
</svg>
</body></html>
